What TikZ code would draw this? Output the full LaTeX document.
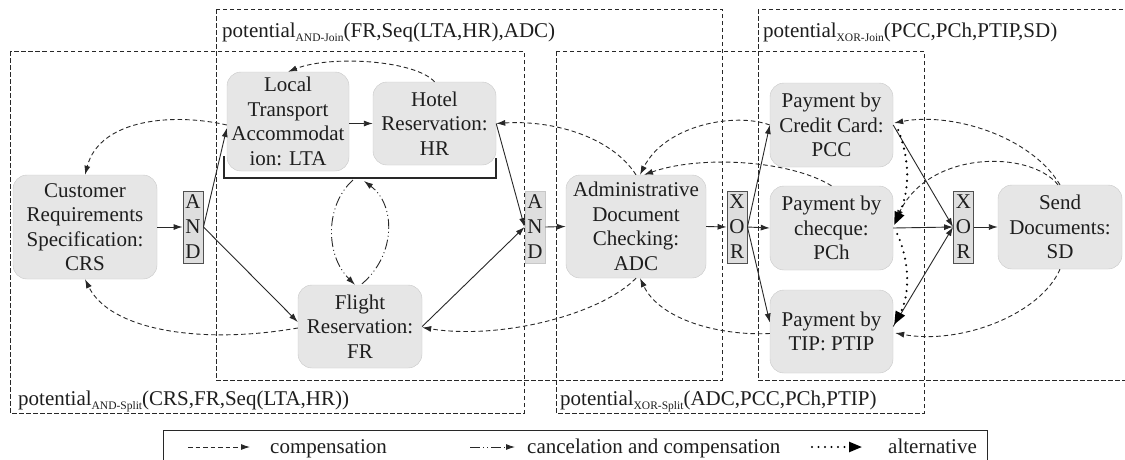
\documentclass[tikz,border=0pt]{standalone}
\usepackage{fontspec}
\setmainfont{Liberation Serif}
\usetikzlibrary{arrows.meta,calc}
\definecolor{boxfill}{RGB}{230,230,230}
\definecolor{boxborder}{RGB}{200,200,200}
\definecolor{gatefill}{RGB}{222,222,222}
\definecolor{gateborder}{RGB}{80,80,80}
\definecolor{lin}{RGB}{40,40,40}
\definecolor{txt}{RGB}{30,30,30}
\newcommand{\sbx}[1]{\raisebox{-4pt}{\fontsize{11.5}{12}\selectfont #1}}
\begin{document}
\begin{tikzpicture}[x=1pt,y=-1pt,
  task/.style={draw=boxborder, fill=boxfill, rounded corners=14pt, align=center, inner sep=0pt,
    font=\fontsize{21}{24.5}\selectfont, text=txt},
  gate/.style={draw=gateborder, line width=0.9pt, fill=gatefill, align=center, minimum width=20pt,
    minimum height=72pt, inner sep=0pt, font=\fontsize{21}{25}\selectfont, text=txt},
  flow/.style={-{Latex[length=9pt,width=6pt]}, line width=0.9pt, draw=lin},
  comp/.style={flow, dash pattern=on 4.5pt off 3pt},
  cancel/.style={flow, dash pattern=on 10pt off 3pt on 1pt off 3pt on 1pt off 3pt},
  alt/.style={draw=black, line width=2.4pt, dash pattern=on 0pt off 6.5pt, line cap=round,
    -{Triangle[length=13pt,width=10pt]}},
  region/.style={draw=lin, line width=0.9pt, dash pattern=on 4.5pt off 2.5pt},
  lbl/.style={font=\fontsize{21}{24}\selectfont, text=txt, inner sep=0pt, anchor=base west}
]
\clip (0,0) rectangle (1125,459);
\fill[white] (0,0) rectangle (1125,459);

% regions
\draw[region] (10,51) rectangle (524,413);
\draw[region] (216,9) rectangle (722,380);
\draw[region] (556,51) rectangle (924,413);
\draw[region] (758,9) rectangle (1140,380);
\node[lbl] (lAS) at (18,405) {potential\sbx{AND-Split}(CRS,FR,Seq(LTA,HR))};
\node[lbl] (lAJ) at (222,37) {potential\sbx{AND-Join}(FR,Seq(LTA,HR),ADC)};
\node[lbl] (lXS) at (560,405) {potential\sbx{XOR-Split}(ADC,PCC,PCh,PTIP)};
\node[lbl] (lXJ) at (763,37) {potential\sbx{XOR-Join}(PCC,PCh,PTIP,SD)};

% tasks
\node[task, minimum width=144pt, minimum height=104pt] (CRS) at (85,227) {Customer\\Requirements\\Specification:\\CRS};
\node[task, minimum width=122pt, minimum height=99pt] (LTA) at (288,121.5) {Local\\Transport\\Accommodat\\ion: LTA};
\node[task, minimum width=123pt, minimum height=83pt] (HR) at (434.5,123.5) {Hotel\\Reservation:\\HR};
\node[task, minimum width=124pt, minimum height=83pt] (FR) at (360,326.5) {Flight\\Reservation:\\FR};
\node[task, minimum width=140pt, minimum height=103pt] (ADC) at (636,226.5) {Administrative\\Document\\Checking:\\ADC};
\node[task, minimum width=123pt, minimum height=84pt] (PCC) at (831.5,125) {Payment by\\Credit Card:\\PCC};
\node[task, minimum width=123pt, minimum height=84pt] (PCh) at (831.5,228) {Payment by\\checque:\\PCh};
\node[task, minimum width=123pt, minimum height=83pt] (PTIP) at (831.5,331.5) {Payment by\\TIP: PTIP};
\node[task, minimum width=124pt, minimum height=84pt] (SD) at (1060,227) {Send\\Documents:\\SD};

% gates
\node[gate] (AND1) at (193,227) {A\\N\\D};
\node[gate, draw=boxborder] (AND2) at (535,227) {A\\N\\D};
\node[gate] (XOR1) at (737,227) {X\\O\\R};
\node[gate] (XOR2) at (963.5,227) {X\\O\\R};

% Seq bracket
\coordinate (bA) at (224,156);
\coordinate (bB) at (224,178);
\coordinate (bC) at (496,178);
\coordinate (bD) at (496,158);
\draw[draw=lin, line width=1.1pt] (bA) -- (bB) -- (bC) -- (bD);
\coordinate (seqA) at (353,180);
\coordinate (seqB) at (364,181);

% control flow
\draw[flow] (CRS.east) -- (AND1.west);
\draw[flow] (AND1.east) -- ($(LTA.west)+(0,6.5)$);
\draw[flow] (AND1.east) -- ($(FR.west)+(0,-4.5)$);
\draw[flow] (LTA.east |- HR.west) -- (HR.west);
\draw[flow] (HR.east) -- (AND2.west);
\draw[flow] (FR.east) -- (AND2.west);
\draw[flow] (AND2.east) -- (ADC.west);
\draw[flow] (ADC.east) -- (XOR1.west);
\draw[flow] (XOR1.east) -- (PCC.west);
\draw[flow] (XOR1.east) -- (PCh.west);
\draw[flow] (XOR1.east) -- ($(PTIP.west)+(0,-9)$);
\draw[flow] (PCC.east) -- (XOR2.west);
\draw[flow] (PCh.east) -- (XOR2.west);
\draw[flow] ($(PTIP.east)+(0,-5)$) -- (XOR2.west);
\draw[flow] (XOR2.east) -- (SD.west);

% compensation
\draw[comp] ($(LTA.west)+(0,3.5)$) .. controls (175,113) and (100,118) .. (CRS.north);
\draw[comp] ($(FR.west)+(0,1.5)$) .. controls (200,345) and (110,330) .. (CRS.south);
\draw[comp] (HR.north) .. controls (415,60) and (330,55) .. (LTA.north);
\draw[comp] (ADC.north) .. controls (610,135) and (550,120) .. (HR.east);
\draw[comp] (PCC.west) .. controls (735,112) and (665,125) .. ($(ADC.north)+(4,0)$);
\draw[comp] (PCh.north) .. controls (790,160) and (700,155) .. ($(ADC.north)+(8,0)$);
\draw[comp] (ADC.south) .. controls (600,315) and (500,340) .. ($(FR.east)+(0,1)$);
\draw[comp] ($(PTIP.west)+(0,2)$) .. controls (720,336) and (660,320) .. ($(ADC.south)+(4,0)$);
\draw[comp] (SD.north) .. controls (1030,135) and (950,112) .. ($(PCC.east)+(1,-2)$);
\draw[comp] ($(SD.north)+(-2,0)$) .. controls (1030,150) and (930,150) .. ($(PCh.east)+(3,-9)$);
\draw[comp] (SD.south) .. controls (1040,315) and (960,345) .. ($(PTIP.east)+(2,1.5)$);

% cancelation and compensation
\draw[cancel] (seqA) .. controls (325,205) and (325,255) .. ($(FR.north)+(-5,0)$);
\draw[cancel] ($(FR.north)+(2,-1)$) .. controls (396,255) and (396,205) .. (seqB);

% alternatives
\draw[alt] ($(PCC.east)+(5,5)$) .. controls (910,160) and (910,190) .. ($(PCh.east)+(1,-3)$);
\draw[alt] ($(PCh.east)+(4,6)$) .. controls (910,262) and (910,295) .. ($(PTIP.east)+(1,-7)$);

% legend
\draw[draw=lin, line width=1pt] (163,430) rectangle (987,470);
\coordinate (l1a) at (188,447); \coordinate (l1b) at (250,447);
\coordinate (l2a) at (470,447); \coordinate (l2b) at (515,447);
\coordinate (l3a) at (812,447); \coordinate (l3b) at (862,447);
\draw[comp] (l1a) -- (l1b);
\draw[cancel] (l2a) -- (l2b);
\draw[alt] (l3a) -- (l3b);
\node[lbl] (t1) at (270,453) {compensation};
\node[lbl] (t2) at (527,453) {cancelation and compensation};
\node[lbl] (t3) at (888,453) {alternative};
\end{tikzpicture}
\end{document}
